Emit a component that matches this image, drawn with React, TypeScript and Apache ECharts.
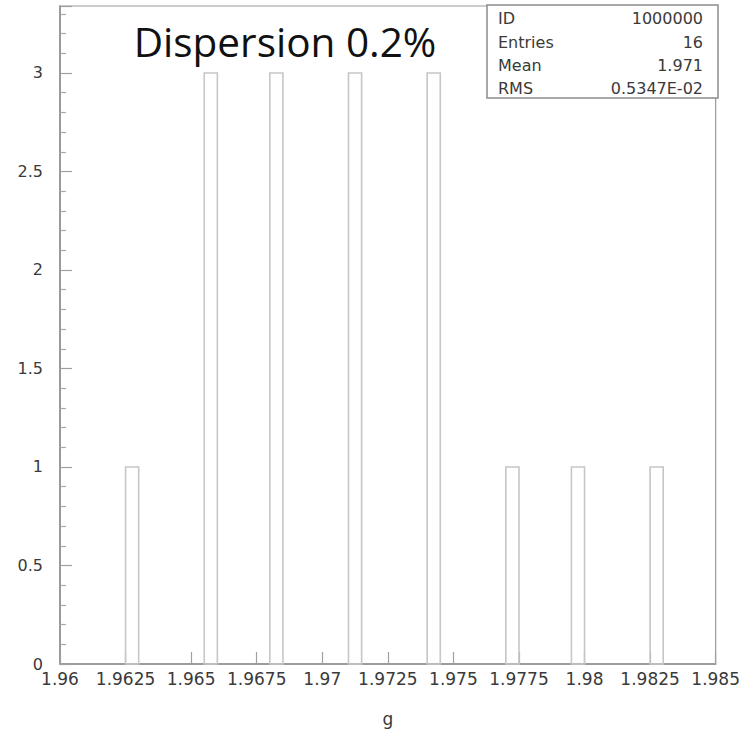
import React, { useEffect, useRef } from "react";
import * as echarts from "echarts";

// Histogram of g: lower bin edges and entries per bin
const binStarts = [1.9625, 1.9655, 1.968, 1.971, 1.974, 1.977, 1.9795, 1.9825];
const counts = [1, 3, 3, 3, 3, 1, 1, 1];
const binWidth = 0.0005;

// Statistics box rows
const statNames = ["ID", "Entries", "Mean", "RMS"];
const statValues = ["1000000", "16", "1.971", "0.5347E-02"];

const titleText = "Dispersion 0.2%";
const xName = "g";

const LABEL_FONT = "DejaVu Sans";
const AXIS_GRAY = "#8c8c8c";
const TEXT_GRAY = "#3a3a3a";
const BAR_GRAY = "#c6c6c6";

export default function App() {
  const ref = useRef<HTMLDivElement>(null);

  useEffect(() => {
    if (!ref.current) return;
    const chart = echarts.init(ref.current, null, { renderer: "svg" });

    const boxLeft = 487;
    const boxTop = 5;
    const boxRight = 718;
    const boxBottom = 98;
    const rowY = [18, 42, 65, 88];

    const statGraphics: any[] = [
      {
        type: "rect",
        shape: { x: boxLeft, y: boxTop, width: boxRight - boxLeft, height: boxBottom - boxTop },
        style: { fill: "#fff", stroke: AXIS_GRAY, lineWidth: 1.5 },
        z: 10,
      },
    ];
    statNames.forEach((name, i) => {
      statGraphics.push({
        type: "text",
        x: boxLeft + 11,
        y: rowY[i],
        z: 11,
        style: {
          text: name,
          font: `16px "${LABEL_FONT}"`,
          fill: TEXT_GRAY,
          align: "left",
          verticalAlign: "middle",
        },
      });
      statGraphics.push({
        type: "text",
        x: boxRight - 15,
        y: rowY[i],
        z: 11,
        style: {
          text: statValues[i],
          font: `16px "${LABEL_FONT}"`,
          fill: TEXT_GRAY,
          align: "right",
          verticalAlign: "middle",
        },
      });
    });

    const option: any = {
      animation: false,
      backgroundColor: "#fff",
      grid: {
        left: 60,
        right: 25,
        top: 6,
        bottom: 70,
        show: true,
        borderColor: "#9a9a9a",
        borderWidth: 1.2,
        backgroundColor: "transparent",
      },
      xAxis: {
        type: "value",
        min: 1.96,
        max: 1.985,
        interval: 0.0025,
        name: xName,
        nameLocation: "middle",
        nameGap: 46,
        nameTextStyle: { fontFamily: LABEL_FONT, fontSize: 17, color: TEXT_GRAY },
        axisLine: { show: true, lineStyle: { color: AXIS_GRAY, width: 1.5 } },
        axisTick: { show: true, inside: true, length: 12, lineStyle: { color: "#a0a0a0", width: 1.2 } },
        axisLabel: {
          margin: 6,
          fontFamily: LABEL_FONT,
          fontSize: 17,
          color: TEXT_GRAY,
          formatter: (v: number) => String(+v.toFixed(4)),
        },
        splitLine: { show: false },
      },
      yAxis: {
        type: "value",
        min: 0,
        max: 3.34,
        interval: 0.5,
        axisLine: { show: true, lineStyle: { color: AXIS_GRAY, width: 1.5 } },
        axisTick: { show: true, inside: true, length: 12, lineStyle: { color: "#a0a0a0", width: 1.2 } },
        minorTick: { show: true, splitNumber: 5, length: 6, lineStyle: { color: "#a8a8a8", width: 1.2 } },
        axisLabel: {
          margin: 17,
          fontFamily: LABEL_FONT,
          fontSize: 16,
          color: TEXT_GRAY,
          showMaxLabel: false,
          formatter: (v: number) => String(+v.toFixed(2)),
        },
        splitLine: { show: false },
        minorSplitLine: { show: false },
      },
      series: [
        {
          type: "custom",
          data: binStarts.map((lo, i) => [lo, lo + binWidth, counts[i]]),
          renderItem: (params: any, api: any) => {
            const lo = api.value(0);
            const hi = api.value(1);
            const n = api.value(2);
            const p0 = api.coord([lo, 0]);
            const p1 = api.coord([hi, n]);
            return {
              type: "rect",
              shape: { x: p0[0], y: p1[1], width: p1[0] - p0[0], height: p0[1] - p1[1] },
              style: { fill: "none", stroke: BAR_GRAY, lineWidth: 1.6 },
            };
          },
        },
      ],
      graphic: [
        {
          type: "text",
          x: 285,
          y: 41,
          z: 12,
          style: {
            text: titleText,
            font: '40.5px "Open Sans"',
            fill: "#111",
            align: "center",
            verticalAlign: "middle",
          },
        },
        ...statGraphics,
      ],
    };

    chart.setOption(option);
    return () => chart.dispose();
  }, []);

  return (
    <div
      ref={ref}
      style={{ position: "fixed", left: 0, top: 0, width: 743, height: 734, background: "#fff" }}
    />
  );
}
